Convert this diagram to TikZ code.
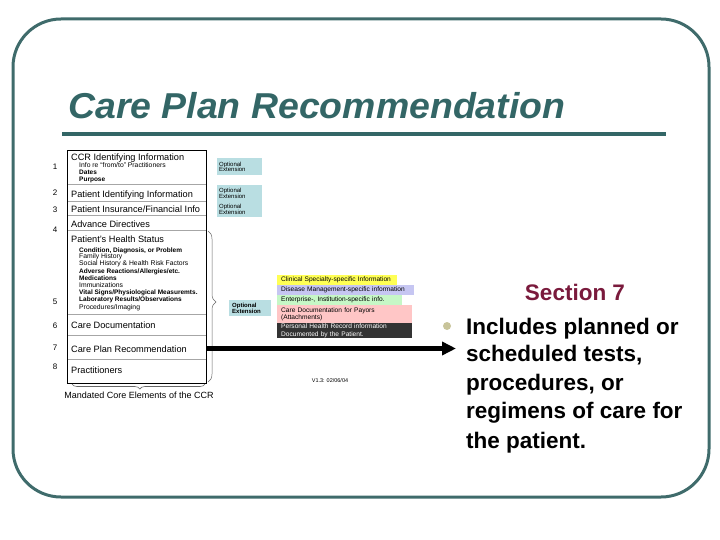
\documentclass[tikz,border=0pt]{standalone}
\usepackage{fontspec}
\setmainfont{Liberation Sans}
\usetikzlibrary{arrows.meta,decorations.pathreplacing}
\definecolor{framecol}{HTML}{3F6B6B}
\definecolor{titlecol}{HTML}{336666}
\definecolor{seccol}{HTML}{7A1A3C}
\definecolor{bulcol}{HTML}{C8C49A}
\definecolor{optcol}{HTML}{B9DEE2}
\definecolor{ylw}{HTML}{FFFF55}
\definecolor{lav}{HTML}{C6C6F2}
\definecolor{grn}{HTML}{C6F7C6}
\definecolor{pnk}{HTML}{FFC6C6}
\definecolor{drk}{HTML}{333333}
\begin{document}
\begin{tikzpicture}[x=1pt,y=-1pt,
  rowlab/.style={anchor=base west,inner sep=0pt,font=\fontsize{9.2}{10}\selectfont},
  sublab/.style={anchor=base west,inner sep=0pt,font=\fontsize{6.8}{7}\selectfont},
  subbold/.style={sublab,font=\fontsize{6.5}{7}\selectfont\bfseries},
  numlab/.style={anchor=base,inner sep=0pt,font=\fontsize{8}{9}\selectfont},
  optbox/.style={fill=optcol,anchor=north west,inner sep=0pt,align=left,font=\fontsize{6}{6.5}\selectfont},
  stripe/.style={anchor=north west,inner xsep=4pt,inner ysep=0pt,align=left,font=\fontsize{6.6}{7.3}\selectfont},
  bultext/.style={anchor=base west,inner sep=0pt,font=\fontsize{22.5}{24}\selectfont\bfseries}]
\useasboundingbox (0,0) rectangle (720,540);
% frame
\draw[framecol,line width=3pt,rounded corners=48pt] (13,19) rectangle (709,497);
% title
\node[anchor=base west,inner sep=0pt,text=titlecol,font=\fontsize{36}{38}\selectfont\bfseries\itshape] (title) at (68,119) {\scalebox{1.04}[1]{Care Plan Recommendation}};
\draw[titlecol,line width=4pt] (62,134) -- (666,134);
% main box
\draw[gray!70,line width=0.5pt] (67,184) -- (206,184) (67,201) -- (206,201) (67,215) -- (206,215)
  (67,230) -- (206,230) (67,314) -- (206,314) (67,335) -- (206,335) (67,359) -- (206,359);
\draw[line width=1pt] (67,151) rectangle (206,383);
\node[rowlab] (r1) at (71,161) {CCR Identifying Information};
\node[sublab] (r1a) at (79,167.5) {Info re “from/to” Practitioners};
\node[subbold] (r1b) at (79,175) {Dates};
\node[subbold] (r1c) at (79,182) {Purpose};
\node[rowlab] (r2) at (71,197) {Patient Identifying Information};
\node[rowlab] (r3) at (71,213) {Patient Insurance/Financial Info};
\node[rowlab] (r4) at (71,227) {Advance Directives};
\node[rowlab] (r5) at (71,242) {Patient’s Health Status};
\node[subbold] (s1) at (79,252) {Condition, Diagnosis, or Problem};
\node[sublab] (s2) at (79,258.5) {Family History};
\node[sublab] (s3) at (79,265) {Social History \& Health Risk Factors};
\node[subbold] (s4) at (79,273) {Adverse Reactions/Allergies/etc.};
\node[subbold] (s5) at (79,280.5) {Medications};
\node[sublab] (s6) at (79,287) {Immunizations};
\node[subbold] (s7) at (79,294.5) {Vital Signs/Physiological Measuremts.};
\node[subbold] (s8) at (79,301.5) {Laboratory Results/Observations};
\node[sublab] (s9) at (79,309) {Procedures/Imaging};
\node[rowlab] (r6) at (71,328) {Care Documentation};
\node[rowlab] (r7) at (71,352) {Care Plan Recommendation};
\node[rowlab] (r8) at (71,373) {Practitioners};
\node[numlab] (n1) at (55,170) {1};
\node[numlab] (n2) at (55,196) {2};
\node[numlab] (n3) at (55,212) {3};
\node[numlab] (n4) at (55,233) {4};
\node[numlab] (n5) at (55,304) {5};
\node[numlab] (n6) at (55,328) {6};
\node[numlab] (n7) at (55,350) {7};
\node[numlab] (n8) at (55,369) {8};
% braces
\draw[gray!80!black,line width=0.5pt,decorate,decoration={brace,amplitude=8pt,aspect=0.47}] (208,231) -- (208,382);
\draw[gray!80!black,line width=0.6pt,decorate,decoration={brace,amplitude=5pt,aspect=0.49}] (205,384) -- (72,384);
\node[anchor=base,inner sep=0pt,font=\fontsize{9}{10}\selectfont] (mand) at (139,398) {Mandated Core Elements of the CCR};
% optional extension boxes
\node[optbox,minimum width=45pt,minimum height=17pt,text width=41pt,inner xsep=2pt] (o1) at (217,158) {Optional\\[-1pt]Extension};
\node[optbox,minimum width=45pt,minimum height=16pt,text width=41pt,inner xsep=2pt] (o2) at (217,185) {Optional\\[-1pt]Extension};
\node[optbox,minimum width=45pt,minimum height=16pt,text width=41pt,inner xsep=2pt] (o3) at (217,201) {Optional\\[-1pt]Extension};
\node[optbox,minimum width=42pt,minimum height=16pt,text width=36pt,inner xsep=3pt,font=\fontsize{6}{6.5}\selectfont\bfseries] (o5) at (229,300) {Optional\\[-1pt]Extension};
% coloured stripes
\node[stripe,fill=ylw,text width=112pt,minimum height=9.5pt] (c1) at (277,275) {Clinical Specialty-specific Information};
\node[stripe,fill=lav,text width=129pt,minimum height=10pt] (c2) at (277,284.5) {Disease Management-specific information};
\node[stripe,fill=grn,text width=117pt,minimum height=10.5pt] (c3) at (277,294.5) {Enterprise-, Institution-specific info.};
\node[stripe,fill=pnk,text width=127pt,minimum height=18pt] (c4) at (277,305) {Care Documentation for Payors\\(Attachments)};
\node[stripe,fill=drk,text=white,text width=127pt,minimum height=15pt] (c5) at (277,323) {Personal Health Record information\\Documented by the Patient.};
\node[inner sep=0pt,font=\fontsize{5.5}{6}\selectfont] (ver) at (330,381) {V1.3: 02/06/04};
% right text
\node[anchor=base,inner sep=0pt,text=seccol,font=\fontsize{22.5}{24}\selectfont\bfseries] (sec) at (575,300) {Section 7};
\fill[bulcol] (447,326) circle (4pt);
\node[bultext] (b1) at (466,334) {Includes planned or};
\node[bultext] (b2) at (466,361) {scheduled tests,};
\node[bultext] (b3) at (466,390) {procedures, or};
\node[bultext] (b4) at (466,418) {regimens of care for};
\node[bultext] (b5) at (466,448) {the patient.};
\coordinate (atip) at (456,348.5);
\draw[line width=5pt,-{Triangle[length=14pt,width=13pt]}] (206,348.5) -- (atip);
\end{tikzpicture}
\end{document}
